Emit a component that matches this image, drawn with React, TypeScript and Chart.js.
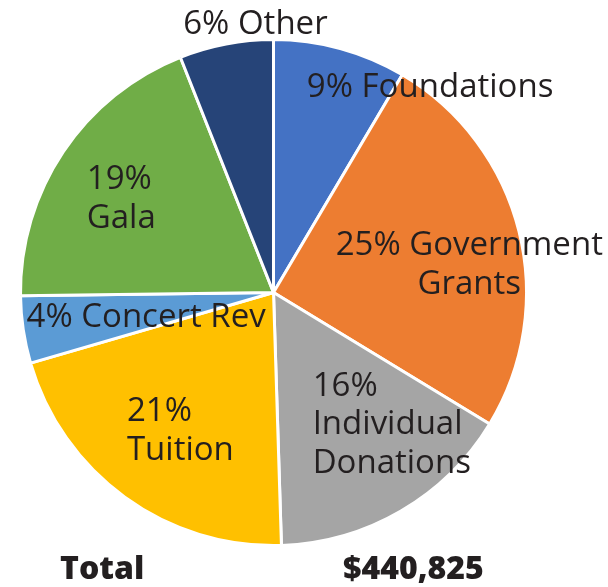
import React, { useEffect, useRef } from "react";
import { Chart, registerables } from "chart.js";

Chart.register(...registerables);

const categories = [
  "Foundations",
  "Government Grants",
  "Individual Donations",
  "Tuition",
  "Concert Rev",
  "Gala",
  "Other",
];
const shareValues = [8.5, 25.2, 15.8, 21.0, 4.3, 19.2, 6.0];
const labelTexts = [
  ["9% Foundations"],
  ["25% Government", "Grants"],
  ["16%", "Individual", "Donations"],
  ["21%", "Tuition"],
  ["4% Concert Rev"],
  ["19%", "Gala"],
  ["6% Other"],
];
const totalLabel = "Total";
const totalValue = "$440,825";

const sliceColors = ["#4472C4", "#ED7D31", "#A5A5A5", "#FFC000", "#5B9BD5", "#70AD47", "#264478"];

// label layout relative to pie centre, in px at a 252px radius
const labelLayout = [
  { dx: 156, dy: -195, align: "center" },
  { dx: 195, dy: -37, align: "center" },
  { dx: 39, dy: 103, align: "left" },
  { dx: -146, dy: 128, align: "left" },
  { dx: -246, dy: 34, align: "left" },
  { dx: -186, dy: -103, align: "left" },
  { dx: -18, dy: -257, align: "center" },
];

const labelPlugin = {
  id: "sliceLabels",
  afterDraw(chart: any) {
    const ctx = chart.ctx;
    const meta = chart.getDatasetMeta(0);
    const arc0 = meta.data[0];
    const cx = arc0.x;
    const cy = arc0.y;
    const s = arc0.outerRadius / 252;
    ctx.save();
    ctx.fillStyle = "#231F20";
    ctx.font = '500 33px "Open Sans"';
    ctx.textBaseline = "alphabetic";
    labelTexts.forEach((lines, i) => {
      const lay = labelLayout[i];
      ctx.textAlign = lay.align;
      lines.forEach((ln, j) => {
        ctx.fillText(ln, cx + lay.dx * s, cy + lay.dy * s + j * 38.5);
      });
    });
    ctx.font = '800 32px "Open Sans"';
    ctx.textAlign = "left";
    ctx.fillText(totalLabel, 60, 579);
    ctx.fillText(totalValue, 343, 579);
    ctx.restore();
  },
};

export default function App() {
  const ref = useRef<HTMLCanvasElement>(null);
  useEffect(() => {
    document.body.style.margin = "0";
    const chart = new Chart(ref.current!, {
      type: "pie",
      data: {
        labels: categories,
        datasets: [
          {
            data: shareValues,
            backgroundColor: sliceColors,
            borderColor: "#FFFFFF",
            borderWidth: 3,
          },
        ],
      },
      options: {
        animation: false,
        responsive: false,
        layout: { padding: { left: 19, right: 80, top: 38, bottom: 40 } },
        plugins: {
          legend: { display: false },
          tooltip: { enabled: false },
        },
      },
      plugins: [labelPlugin],
    });
    return () => chart.destroy();
  }, []);
  return (
    <div style={{ width: 608, height: 587, background: "#fff" }}>
      <canvas ref={ref} width={608} height={587} />
    </div>
  );
}
